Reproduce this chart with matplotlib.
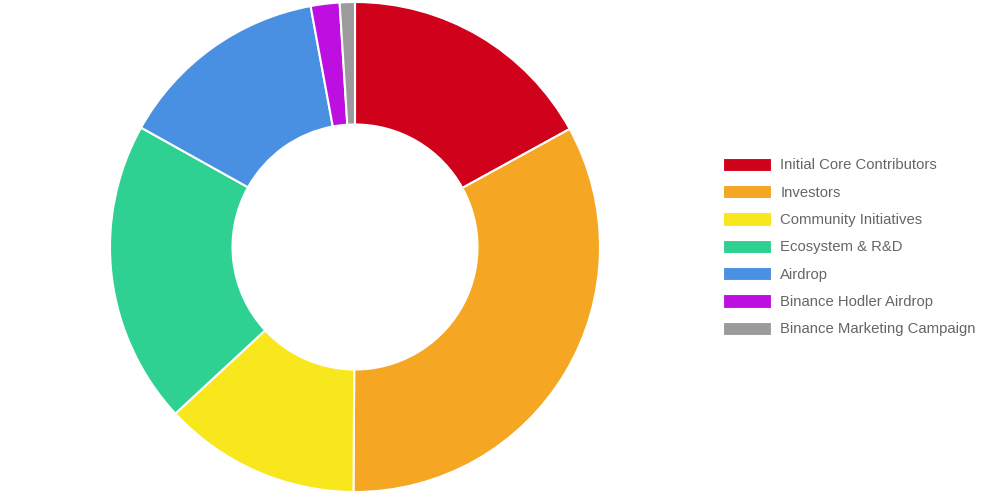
import matplotlib.pyplot as plt
from matplotlib.patches import Patch

plt.rcParams['font.family'] = ['Liberation Sans', 'DejaVu Sans']

labels = ['Initial Core Contributors', 'Investors', 'Community Initiatives',
          'Ecosystem & R&D', 'Airdrop', 'Binance Hodler Airdrop',
          'Binance Marketing Campaign']
values = [17, 33.1, 13, 20, 14, 1.9, 1]
colors = ['#D0021B', '#F5A623', '#F8E71C', '#2ED191', '#4A90E2', '#BD10E0', '#9B9B9B']

fig = plt.figure(figsize=(9.9, 4.95), dpi=100)
ax = fig.add_axes([110/990, 3/495, 490/990, 490/495])
ax.pie(values, colors=colors, startangle=90, counterclock=False, radius=1,
       wedgeprops=dict(width=0.5, edgecolor='white', linewidth=1.5))
ax.set_xlim(-1, 1)
ax.set_ylim(-1, 1)
ax.set_aspect('equal')
ax.axis('off')

handles = [Patch(facecolor=c, edgecolor='white', linewidth=0.8) for c in colors]
leg = fig.legend(handles, labels, loc='center left', bbox_to_anchor=(723/990, 1 - 247/495),
                 frameon=False, fontsize=10.7, handlelength=3.2, handleheight=1.0,
                 handletextpad=0.65, labelspacing=0.85, borderpad=0, borderaxespad=0)
for t in leg.get_texts():
    t.set_color('#666666')

fig.savefig('out.png', dpi=100)
